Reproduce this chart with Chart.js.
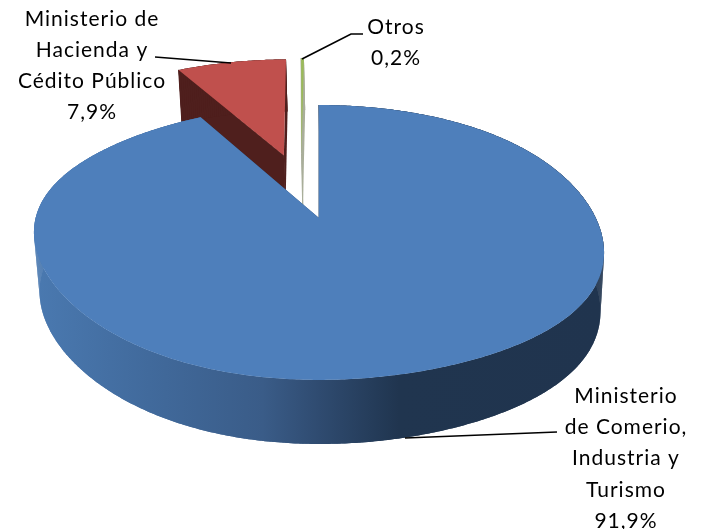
<!DOCTYPE html>
<html>
<head>
<meta charset="utf-8">
<style>
  html, body { margin: 0; padding: 0; background: #fff; overflow: hidden; }
  canvas { display: block; }
</style>
<script src="https://cdn.jsdelivr.net/npm/chart.js@4/dist/chart.umd.js"></script>
</head>
<body>
<canvas id="pieChart" width="705" height="529"></canvas>
<script>
// order is red, green, blue: later slices paint over earlier ones
var categories = [
  ["Ministerio de", "Hacienda y", "Cédito Público"],
  ["Otros"],
  ["Ministerio", "de Comerio,", "Industria y", "Turismo"]
];
var values = [7.9, 0.2, 91.9];

var topColors = ["#C0504D", "#9BBB59", "#4E7FBB"];
var sideColors = ["#4F1F1D", "#A9AE9A", "#2A4A70"];
var explode = [0.53, 0.53, 0];   // fraction of the radius
var nudge = [0, -0.065, 0];      // the green sliver sits left of its own radial line

// label anchor (centre x, first baseline, line height) and leader lines
var labelBoxes = [
  { x: 92, y: 26, lh: 31 },
  { x: 396, y: 34, lh: 31 },
  { x: 626, y: 403, lh: 31.2 }
];
var leaders = [
  [[155, 57], [231, 63]],
  [[363, 34], [351, 34], [302, 59]],
  [[557, 432], [405, 438]]
];

// 3d view: perspective map of the unit circle to the screen
var view = { cx: 319, r: 280.5, rBase: 276, persp: -0.178, a: 94.3, b: 218, tilt: 18 };

function project(u, v, base) {
  var d = 1 + view.persp * v;
  var y = (view.a * v + view.b) / d;
  // the rim of the near half leans down towards the right
  y += view.tilt * u * u * u * Math.max(0, (1 + v) / 2);
  if (base) {
    return [view.cx + 1 + view.rBase * u / d, y + 30 + 28 / d];
  }
  return [view.cx + view.r * u / d, y];
}

function tracePath(ctx, pts) {
  ctx.beginPath();
  pts.forEach(function (p, i) {
    if (i === 0) ctx.moveTo(p[0], p[1]);
    else ctx.lineTo(p[0], p[1]);
  });
  ctx.closePath();
}

// arcs draw themselves as extruded slices, using the angles the controller gave them
var ArcEl = Chart.registry.getElement("arc");
ArcEl.prototype.draw = function (ctx) {
  var i = this.$context.dataIndex;
  var start = this.startAngle, end = this.endAngle;
  var mid = (start + end) / 2;
  var ou = explode[i] * Math.cos(mid) + nudge[i];
  var ov = explode[i] * Math.sin(mid);
  var steps = Math.max(2, Math.ceil((end - start) / 0.01));
  var rimTop = [], rimBase = [];
  for (var s = 0; s <= steps; s++) {
    var ang = start + (end - start) * s / steps;
    var u = ou + Math.cos(ang), v = ov + Math.sin(ang);
    rimTop.push(project(u, v, false));
    rimBase.push(project(u, v, true));
  }
  var apexTop = project(ou, ov, false);
  var apexBase = project(ou, ov, true);

  ctx.save();

  // cut faces
  ctx.fillStyle = sideColors[i];
  ctx.strokeStyle = sideColors[i];
  ctx.lineWidth = 1;
  tracePath(ctx, [apexTop, rimTop[0], rimBase[0], apexBase]);
  ctx.fill();
  ctx.stroke();
  tracePath(ctx, [apexTop, rimTop[steps], rimBase[steps], apexBase]);
  ctx.fill();

  // outer wall
  var wall = sideColors[i];
  if (i === 2) {
    wall = ctx.createLinearGradient(35, 0, 604, 0);
    wall.addColorStop(0, "#4A79B0");
    wall.addColorStop(0.2, "#416A9C");
    wall.addColorStop(0.4, "#3A5C88");
    wall.addColorStop(0.5, "#2F4B70");
    wall.addColorStop(0.64, "#20354F");
    wall.addColorStop(1, "#20344E");
  }
  ctx.fillStyle = wall;
  tracePath(ctx, rimTop.concat(rimBase.slice().reverse()));
  ctx.fill();
  // the band alone leaves a gap where the two rims cross at the sides
  for (var q = 0; q < steps; q++) {
    tracePath(ctx, [rimTop[q], rimTop[q + 1], rimBase[q + 1], rimBase[q]]);
    ctx.fill();
  }

  // top face
  ctx.fillStyle = topColors[i];
  tracePath(ctx, [apexTop].concat(rimTop));
  ctx.fill();

  ctx.restore();
};

var sliceLabels = {
  id: "sliceLabels",
  afterDatasetsDraw: function (chart) {
    var ctx = chart.ctx;
    ctx.save();
    ctx.strokeStyle = "#000";
    ctx.lineWidth = 1.7;
    leaders.forEach(function (line) {
      ctx.beginPath();
      line.forEach(function (p, i) {
        if (i === 0) ctx.moveTo(p[0], p[1]);
        else ctx.lineTo(p[0], p[1]);
      });
      ctx.stroke();
    });
    ctx.fillStyle = "#000";
    ctx.font = "21px Lato";
    ctx.letterSpacing = "1px";
    ctx.textAlign = "center";
    ctx.textBaseline = "alphabetic";
    categories.forEach(function (lines, i) {
      var box = labelBoxes[i];
      var pct = values[i].toFixed(1).replace(".", ",") + "%";
      lines.concat([pct]).forEach(function (text, n) {
        ctx.fillText(text, box.x, box.y + n * box.lh);
      });
    });
    ctx.restore();
  }
};

var pieChart = new Chart(document.getElementById("pieChart").getContext("2d"), {
  type: "pie",
  data: {
    labels: categories.map(function (c) { return c.join(" "); }),
    datasets: [
      {
        data: values,
        backgroundColor: topColors,
        borderWidth: 0,
      },
    ],
  },
  options: {
    responsive: false,
    animation: false,
    // the first slice begins where the blue one ends
    rotation: -(values[0] + values[1]) * 3.6,
    plugins: {
      legend: { display: false },
      tooltip: { enabled: false },
    },
  },
  plugins: [sliceLabels],
});
</script>
</body>
</html>
